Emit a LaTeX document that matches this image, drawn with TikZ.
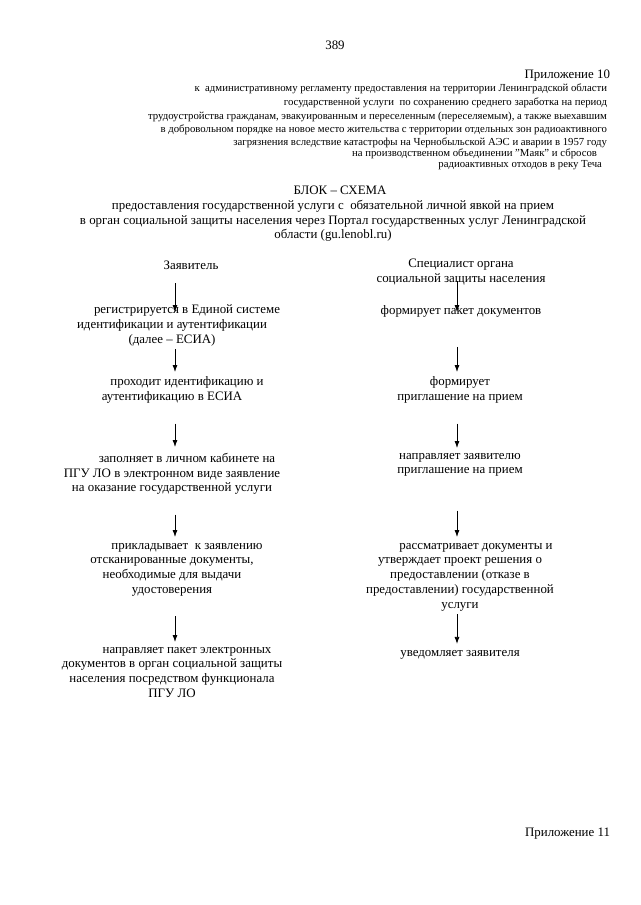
\documentclass[tikz,border=0pt]{standalone}
\usepackage{fontspec}
\setmainfont{Liberation Serif}
\usetikzlibrary{arrows.meta,calc}
\begin{document}
\begin{tikzpicture}[x=1pt,y=-1pt,
  every node/.style={inner sep=0pt,outer sep=0pt},
  body/.style={font=\fontsize{12.9}{14.8}\selectfont,align=center},
  hdr/.style={font=\fontsize{10.75}{12.4}\selectfont,anchor=base east},
  arr/.style={-{Latex[length=7pt,width=5pt]},line width=0.8pt}]
\fill[white] (0,0) rectangle (640,905);
\useasboundingbox (0,0) rectangle (640,905);
\coordinate (colL) at (175,0);
\coordinate (colR) at (457,0);
% page number and header
\node[body,anchor=base] (pg) at (335,49) {389};
\node[body,anchor=base east] (app10) at (610,78) {Приложение 10};
\node[hdr] (h1) at (607,91) {к\ \ административному регламенту предоставления на территории Ленинградской области};
\node[hdr] (h2) at (607,105) {государственной услуги\ \ по сохранению среднего заработка на период};
\node[hdr] (h3) at (607,119) {трудоустройства гражданам, эвакуированным и переселенным (переселяемым), а также выехавшим};
\node[hdr] (h4) at (607,132) {в добровольном порядке на новое место жительства с территории отдельных зон радиоактивного};
\node[hdr] (h5) at (607,145) {загрязнения вследствие катастрофы на Чернобыльской АЭС и аварии в 1957 году};
\node[hdr] (h6) at (597,156) {на производственном объединении "Маяк" и сбросов};
\node[hdr] (h7) at (602,167) {радиоактивных отходов в реку Теча};
% title
\node[body,anchor=base] (title) at (340,194) {БЛОК – СХЕМА};
\node[body,anchor=north] (sub) at (333,200) {предоставления государственной услуги с\ \ обязательной личной явкой на прием\\
в орган социальной защиты населения через Портал государственных услуг Ленинградской\\
области (gu.lenobl.ru)};
% left column
\node[body,anchor=base] (zav) at (191,269) {Заявитель};
\node[body,anchor=north] (reg) at (172,305) {\hspace*{30pt}регистрируется в Единой системе\\
идентификации и аутентификации\\
(далее – ЕСИА)};
\node[body,anchor=north] (pro) at (172,377) {\hspace*{30pt}проходит идентификацию и\\
аутентификацию в ЕСИА};
\node[body,anchor=north] (zap) at (172,453) {\hspace*{30pt}заполняет в личном кабинете на\\
ПГУ ЛО в электронном виде заявление\\
на оказание государственной услуги};
\node[body,anchor=north] (pri) at (172,543) {\hspace*{30pt}прикладывает\ \ к заявлению\\
отсканированные документы,\\
необходимые для выдачи\\
удостоверения};
\node[body,anchor=north] (nap) at (172,647) {\hspace*{30pt}направляет пакет электронных\\
документов в орган социальной защиты\\
населения посредством функционала\\
ПГУ ЛО};
% right column
\node[body,anchor=north] (spec) at (461,259) {Специалист органа\\
социальной защиты населения};
\node[body,anchor=base] (form) at (461,314) {формирует пакет документов};
\node[body,anchor=north] (inv) at (460,377) {формирует\\
приглашение на прием};
\node[body,anchor=north] (send) at (460,453) {направляет заявителю\\
приглашение на прием};
\node[body,anchor=north] (rev) at (460,543) {\hspace*{32pt}рассматривает документы и\\
утверждает проект решения о\\
предоставлении (отказе в\\
предоставлении) государственной\\
услуги};
\node[body,anchor=base] (notif) at (460,656) {уведомляет заявителя};
\node[body,anchor=base east] (app11) at (610,836) {Приложение 11};
% arrows left
\draw[arr] ($(zav.south -| colL)+(0,14)$) -- ($(reg.north -| colL)+(0,7)$);
\draw[arr] ($(reg.south -| colL)+(0,3)$) -- ($(pro.north -| colL)+(0,-5)$);
\draw[arr] ($(pro.south -| colL)+(0,20)$) -- ($(zap.north -| colL)+(0,-6)$);
\draw[arr] ($(zap.south -| colL)+(0,20)$) -- ($(pri.north -| colL)+(0,-6)$);
\draw[arr] ($(pri.south -| colL)+(0,20)$) -- ($(nap.north -| colL)+(0,-5)$);
% arrows right
\draw[arr] ($(spec.south -| colR)+(0,-4)$) -- ($(form.north -| colR)+(0,7)$);
\draw[arr] ($(form.south -| colR)+(0,30)$) -- ($(inv.north -| colR)+(0,-5)$);
\draw[arr] ($(inv.south -| colR)+(0,20)$) -- ($(send.north -| colR)+(0,-5)$);
\draw[arr] ($(send.south -| colR)+(0,34)$) -- ($(rev.north -| colR)+(0,-6)$);
\draw[arr] ($(rev.south -| colR)+(0,3)$) -- ($(notif.north -| colR)+(0,-6)$);
\end{tikzpicture}
\end{document}
